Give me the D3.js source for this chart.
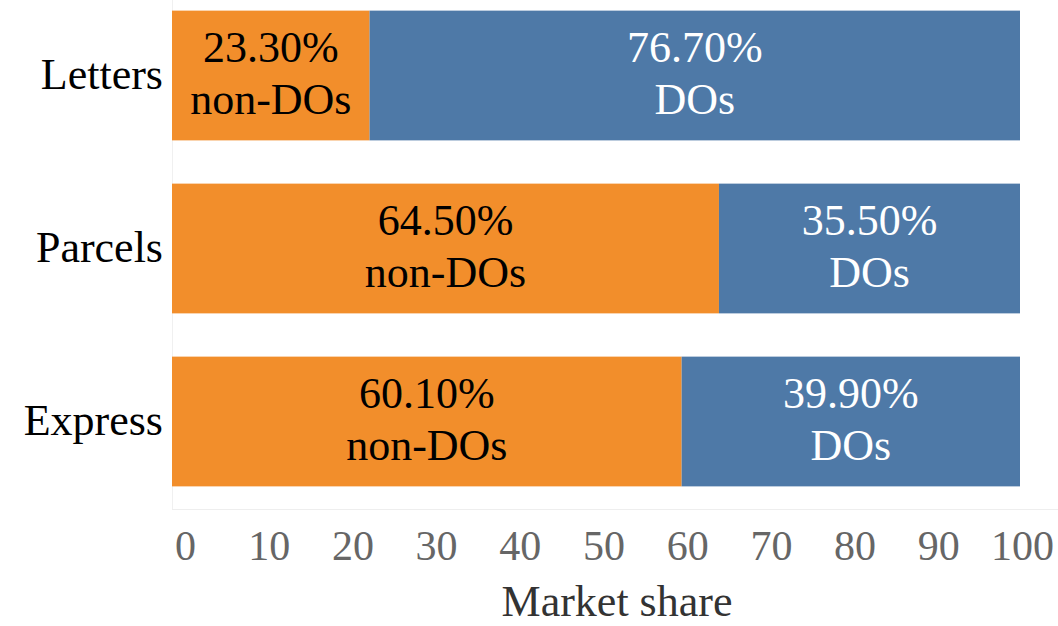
<!DOCTYPE html>
<html>
<head>
<meta charset="utf-8">
<script src="https://cdn.jsdelivr.net/npm/d3@7"></script>
<style>
  html, body { margin: 0; padding: 0; background: #fff; }
  svg { display: block; }
  svg text { font-family: "Liberation Serif", "Tinos", "DejaVu Serif", serif; }
</style>
</head>
<body>
<svg id="chart" width="1058" height="626"></svg>
<script>
const categories = ["Letters", "Parcels", "Express"];
const nonDOs = [23.3, 64.5, 60.1];
const DOs = [76.7, 35.5, 39.9];
const seriesNames = ["non-DOs", "DOs"];
const tickValues = [0, 10, 20, 30, 40, 50, 60, 70, 80, 90, 100];
const xTitle = "Market share";

const colors = ["#F28E2B", "#4E79A7"];
const textColors = ["#000000", "#ffffff"];
const FONT = '"Liberation Serif", "Tinos", "DejaVu Serif", serif';

const svg = d3.select("#chart");
const W = 1058, H = 626;
const left = 172, right = 1020, bottom = 508;

const x = d3.scaleLinear().domain([0, 100]).range([left, right]);
const xTicks = d3.scaleLinear().domain([0, 100]).range([185, 1022]);
const y = d3.scaleBand().domain(categories).range([-11, bottom])
  .paddingInner(0.25).paddingOuter(0.125);

const rows = categories.map((c, i) => ({ cat: c, vals: [nonDOs[i], DOs[i]] }));
const stackData = rows.map(r => {
  let acc = 0;
  return r.vals.map((v, k) => { const s = { cat: r.cat, k, x0: acc, x1: acc + v, v }; acc += v; return s; });
}).flat();

// faint frame lines
svg.append("line").attr("x1", left + 0.5).attr("x2", left + 0.5).attr("y1", 0).attr("y2", bottom + 1)
  .attr("stroke", "#f0f0f0").attr("stroke-width", 1);
svg.append("line").attr("x1", left).attr("x2", W).attr("y1", bottom + 1.5).attr("y2", bottom + 1.5)
  .attr("stroke", "#eeeeee").attr("stroke-width", 1);

// bars
svg.append("g").selectAll("rect").data(stackData).join("rect")
  .attr("x", d => x(d.x0))
  .attr("width", d => x(d.x1) - x(d.x0))
  .attr("y", d => y(d.cat))
  .attr("height", y.bandwidth())
  .attr("fill", d => colors[d.k]);

// bar labels
const lab = svg.append("g").selectAll("text").data(stackData).join("text")
  .attr("text-anchor", "middle")
  .attr("font-family", FONT)
  .attr("font-size", 44)
  .attr("fill", d => textColors[d.k])
  .attr("x", d => (x(d.x0) + x(d.x1)) / 2);
lab.append("tspan")
  .attr("x", d => (x(d.x0) + x(d.x1)) / 2)
  .attr("y", d => y(d.cat) + y.bandwidth() / 2 - 14)
  .text(d => d.v.toFixed(2) + "%");
lab.append("tspan")
  .attr("x", d => (x(d.x0) + x(d.x1)) / 2)
  .attr("y", d => y(d.cat) + y.bandwidth() / 2 + 38)
  .text(d => seriesNames[d.k]);

// y axis labels
const yAxis = d3.axisLeft(y).tickSize(0).tickPadding(9);
const gy = svg.append("g").attr("transform", `translate(${left},0)`).call(yAxis);
gy.attr("font-family", FONT);
gy.select(".domain").remove();
gy.selectAll("text").attr("font-size", 44).attr("fill", "#000")
  .attr("font-family", FONT).attr("dy", "0.3em");

// x axis labels
const xAxis = d3.axisBottom(xTicks).tickValues(tickValues).tickSize(0).tickPadding(0).tickFormat(d3.format("d"));
const gx = svg.append("g").attr("transform", `translate(0,${bottom})`).call(xAxis);
gx.attr("font-family", FONT);
gx.select(".domain").remove();
gx.selectAll("text").attr("font-size", 42).attr("fill", "#666")
  .attr("font-family", FONT).attr("dy", null).attr("y", 52);

// x title
svg.append("text").attr("x", (left + W) / 2 + 2).attr("y", 616)
  .attr("text-anchor", "middle").attr("font-family", FONT).attr("font-size", 44).attr("fill", "#333")
  .text(xTitle);
</script>
</body>
</html>
